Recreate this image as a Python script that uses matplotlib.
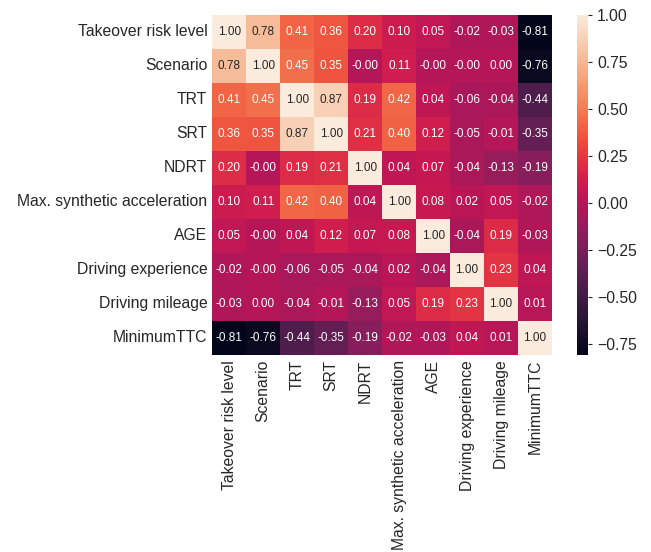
import numpy as np
import matplotlib
matplotlib.use("Agg")
import matplotlib.pyplot as plt
import seaborn as sns

labels = ["Takeover risk level", "Scenario", "TRT", "SRT", "NDRT",
          "Max. synthetic acceleration", "AGE", "Driving experience",
          "Driving mileage", "MinimumTTC"]

# correlation matrix (-0.001 shows as -0.00)
corr = [
    [1.00, 0.78, 0.41, 0.36, 0.20, 0.10, 0.05, -0.02, -0.03, -0.81],
    [0.78, 1.00, 0.45, 0.35, -0.001, 0.11, -0.001, -0.001, 0.001, -0.76],
    [0.41, 0.45, 1.00, 0.87, 0.19, 0.42, 0.04, -0.06, -0.04, -0.44],
    [0.36, 0.35, 0.87, 1.00, 0.21, 0.40, 0.12, -0.05, -0.01, -0.35],
    [0.20, -0.001, 0.19, 0.21, 1.00, 0.04, 0.07, -0.04, -0.13, -0.19],
    [0.10, 0.11, 0.42, 0.40, 0.04, 1.00, 0.08, 0.02, 0.05, -0.02],
    [0.05, -0.001, 0.04, 0.12, 0.07, 0.08, 1.00, -0.04, 0.19, -0.03],
    [-0.02, -0.001, -0.06, -0.05, -0.04, 0.02, -0.04, 1.00, 0.23, 0.04],
    [-0.03, 0.001, -0.04, -0.01, -0.13, 0.05, 0.19, 0.23, 1.00, 0.01],
    [-0.81, -0.76, -0.44, -0.35, -0.19, -0.02, -0.03, 0.04, 0.01, 1.00],
]

sns.set_style("white")
plt.rcParams['font.family'] = ['Liberation Sans', 'DejaVu Sans']

fig = plt.figure(figsize=(6.51, 5.52), dpi=100)
ax = fig.add_axes([0.326, 0.357, 0.522, 0.616])
cax = fig.add_axes([0.886, 0.357, 0.017, 0.616])

sns.heatmap(np.array(corr), annot=True, fmt=".2f", ax=ax, cbar_ax=cax,
            xticklabels=labels, yticklabels=labels,
            annot_kws={"fontsize": 8.5})

ax.tick_params(axis='both', labelsize=11.3, length=0)
ax.set_xticklabels(labels, rotation=90)
ax.set_yticklabels(labels, rotation=0)
cax.tick_params(labelsize=11.3, length=3)
cax.set_yticks([-0.75, -0.5, -0.25, 0, 0.25, 0.5, 0.75, 1.0])

fig.savefig("out.png", dpi=100)
